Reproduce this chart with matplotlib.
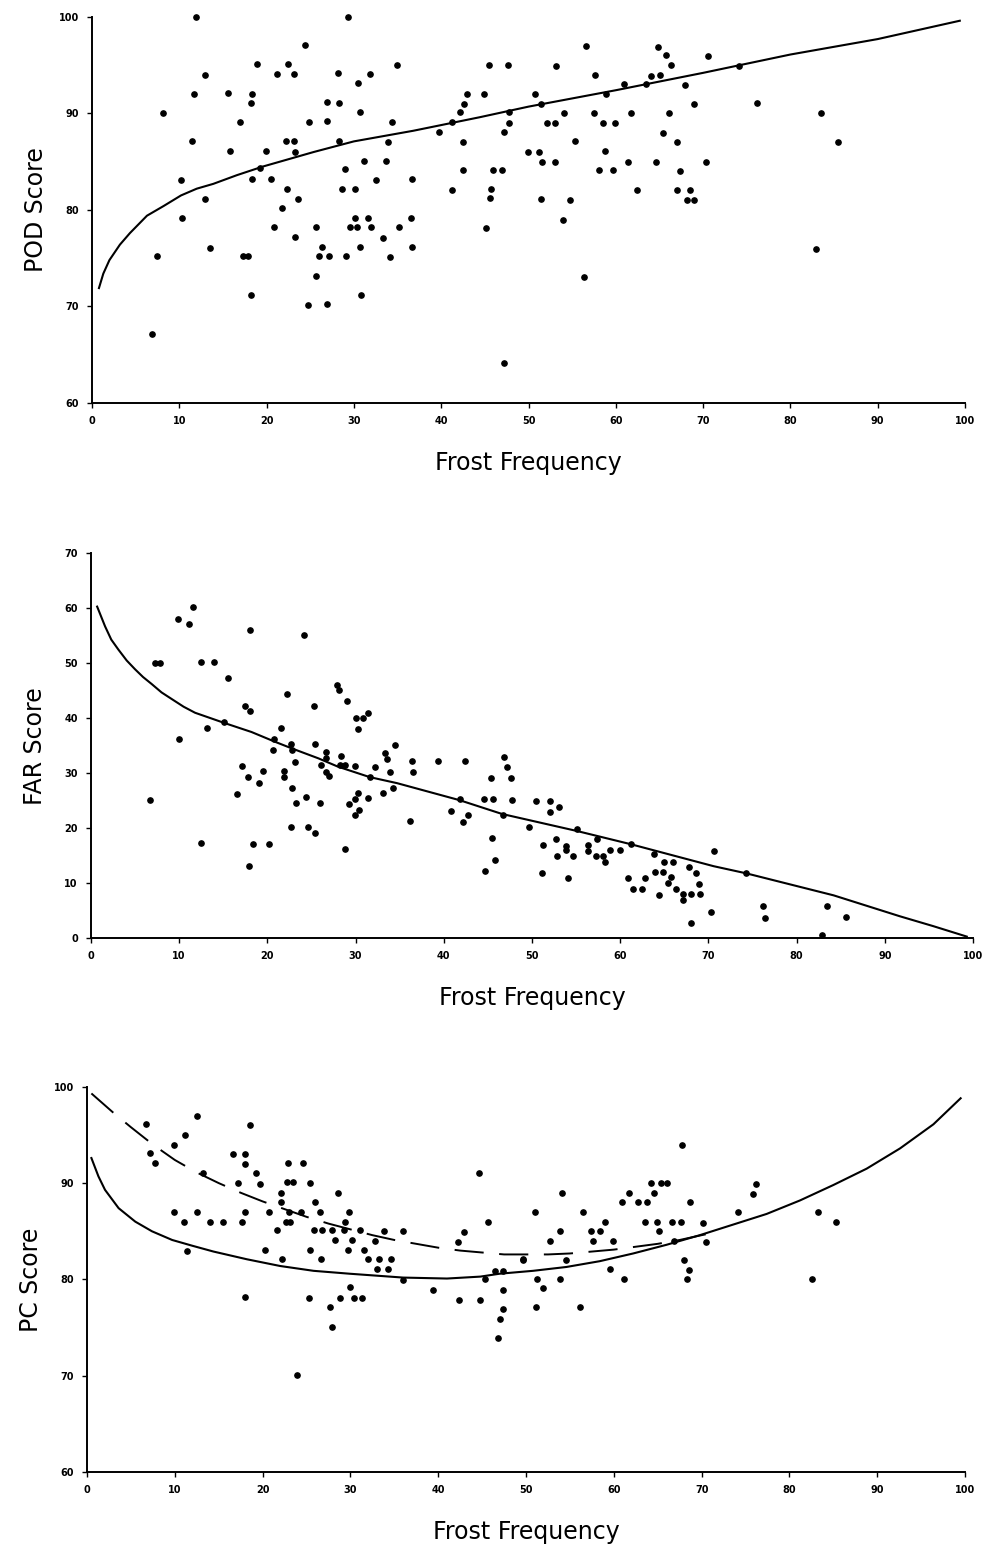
import numpy as np
import matplotlib
matplotlib.use("Agg")
import matplotlib.pyplot as plt

freq_ticks = [0, 10, 20, 30, 40, 50, 60, 70, 80, 90, 100]

# POD score per station vs frost frequency
pod_x = [11.9, 29.3, 24.4, 18.9, 22.5, 12.9, 21.2, 23.1, 28.2, 31.8, 34.9, 30.5, 45.5, 47.7,
         11.7, 15.6, 18.3, 18.2, 8.1, 26.9, 28.3, 30.7, 43.0, 44.9, 42.6, 16.9, 24.9, 26.9,
         34.4, 39.7, 47.8, 47.2, 11.5, 22.2, 23.1, 33.9, 42.5, 15.8, 19.9, 49.9, 31.2, 33.7,
         29.0, 42.5, 45.9, 47.0, 10.2, 18.3, 20.5, 32.5, 36.7, 22.3, 28.6, 30.1, 41.2, 45.7,
         45.6, 12.9, 23.6, 21.8, 10.3, 30.1, 31.6, 36.5, 20.9, 25.7, 29.6, 30.3, 32.0, 35.2,
         45.1, 23.3, 33.3, 13.5, 26.3, 30.7, 36.7, 7.5, 17.3, 17.9, 26.0, 27.2, 29.1, 34.1,
         25.7, 18.2, 30.8, 24.7, 26.9, 6.9, 47.2, 23.2, 28.3, 19.3, 41.2, 42.1, 47.8,
         56.6, 64.8, 65.8, 70.6, 53.2, 66.3, 57.6, 64.0, 65.1, 74.1, 50.7, 60.9, 63.5, 67.9,
         58.9, 51.4, 68.9, 76.2, 83.5, 54.1, 57.5, 61.7, 66.1, 52.1, 53.0, 58.5, 59.9, 65.4,
         55.3, 67.0, 85.5, 51.2, 58.8, 51.5, 53.0, 61.4, 64.6, 70.3, 58.1, 59.7, 67.4, 62.4,
         67.0, 68.5, 51.4, 54.8, 68.1, 69.0, 54.0, 82.9, 56.4]
pod_y = [100.0, 100.0, 97.1, 95.1, 95.1, 94.0, 94.1, 94.1, 94.2, 94.1, 95.0, 93.1, 95.0, 95.0,
         92.0, 92.1, 92.0, 91.1, 90.0, 91.2, 91.1, 90.1, 92.0, 92.0, 91.0, 89.1, 89.1, 89.2,
         89.1, 88.1, 89.0, 88.1, 87.1, 87.1, 87.1, 87.0, 87.0, 86.1, 86.1, 86.0, 85.1, 85.1,
         84.2, 84.1, 84.1, 84.1, 83.1, 83.2, 83.2, 83.1, 83.2, 82.2, 82.2, 82.2, 82.1, 82.2,
         81.2, 81.1, 81.1, 80.2, 79.2, 79.2, 79.2, 79.2, 78.2, 78.2, 78.2, 78.2, 78.2, 78.2,
         78.1, 77.2, 77.1, 76.1, 76.2, 76.2, 76.2, 75.2, 75.2, 75.2, 75.2, 75.2, 75.2, 75.1,
         73.2, 71.2, 71.2, 70.1, 70.2, 67.1, 64.1, 86.0, 87.1, 84.3, 89.1, 90.1, 90.1,
         97.0, 96.9, 96.0, 95.9, 94.9, 95.0, 94.0, 93.9, 94.0, 94.9, 92.0, 93.0, 93.0, 92.9,
         92.0, 91.0, 91.0, 91.1, 90.0, 90.0, 90.0, 90.0, 90.0, 89.0, 89.0, 89.0, 89.0, 88.0,
         87.1, 87.0, 87.0, 86.0, 86.1, 85.0, 85.0, 85.0, 85.0, 85.0, 84.1, 84.1, 84.0, 82.1,
         82.1, 82.1, 81.1, 81.0, 81.0, 81.0, 79.0, 76.0, 73.1]
pod_fit_x = [0.8, 1.3, 2.0, 3.2, 4.35, 6.3, 8.2, 10.2, 12.0, 13.9, 16.6, 19.6, 25.4, 30.0, 36.8,
             44.4, 50.0, 60.0, 70.0, 80.0, 90.0, 99.4]
pod_fit_y = [71.9, 73.4, 74.8, 76.4, 77.6, 79.4, 80.4, 81.5, 82.2, 82.7, 83.6, 84.5, 86.0, 87.1, 88.2,
             89.6, 90.7, 92.4, 94.2, 96.1, 97.7, 99.6]

# FAR score
far_x = [11.6, 9.9, 11.1, 18.0, 24.1, 7.3, 7.8, 12.5, 14.0, 15.5, 27.9, 28.1, 29.0, 22.2, 25.3,
         17.5, 18.0, 31.4, 30.8, 30.1, 30.3, 21.6, 13.2, 15.1, 10.0, 20.7, 20.6, 22.7, 22.8,
         25.4, 26.7, 26.6, 34.5, 33.3, 33.6, 28.3, 23.1, 17.1, 36.4, 36.5, 39.3, 42.4, 26.1,
         26.7, 27.0, 28.2, 28.8, 29.9, 32.2, 33.9, 19.5, 17.8, 19.1, 21.9, 21.9, 31.6, 34.2,
         46.8, 47.2, 47.6, 47.7, 45.3, 6.7, 16.5, 22.8, 23.3, 24.4, 26.0, 29.3, 29.9, 30.3,
         30.4, 29.9, 31.4, 33.1, 40.8, 41.8, 42.7, 42.2, 44.6, 45.6, 46.7, 49.7, 36.2, 22.7,
         24.6, 25.4, 12.5, 18.4, 20.2, 28.8, 17.9, 45.5, 45.8, 44.7,
         50.5, 52.0, 52.0, 53.1, 55.1, 51.3, 52.7, 53.9, 53.9, 52.8, 54.6, 56.4, 56.3, 57.4,
         57.3, 58.1, 58.3, 58.9, 60.0, 51.1, 54.1, 61.2, 63.8, 65.0, 66.0, 67.8, 68.6, 68.9,
         70.6, 60.9, 62.8, 61.5, 62.5, 64.0, 64.9, 65.8, 65.4, 66.3, 64.4, 67.1, 67.1, 68.0,
         69.0, 70.3, 68.0, 74.3, 76.2, 76.4, 83.5, 85.6, 82.9]
far_y = [60.2, 58.1, 57.2, 56.1, 55.1, 50.1, 50.1, 50.2, 50.2, 47.3, 46.1, 45.2, 43.2, 44.4, 42.3,
         42.3, 41.3, 41.0, 40.0, 40.0, 38.1, 38.3, 38.2, 39.3, 36.2, 36.3, 34.3, 35.4, 34.2,
         35.3, 33.9, 32.8, 35.2, 33.7, 32.5, 33.2, 32.0, 31.3, 32.3, 30.3, 32.2, 32.2, 31.5,
         30.3, 29.5, 31.5, 31.5, 31.4, 31.2, 30.3, 30.4, 29.3, 28.2, 30.4, 29.3, 29.4, 27.3,
         32.9, 31.1, 29.2, 25.2, 29.2, 25.1, 26.3, 27.3, 24.5, 25.7, 24.6, 24.4, 25.4, 26.4,
         23.4, 22.4, 25.5, 26.4, 23.2, 25.3, 22.4, 21.2, 25.3, 25.3, 22.4, 20.2, 21.3, 20.3,
         20.3, 19.2, 17.3, 17.2, 17.2, 16.3, 13.2, 18.2, 14.2, 12.2,
         25.0, 25.0, 23.0, 23.9, 19.9, 17.0, 18.1, 16.8, 16.0, 15.0, 15.0, 16.9, 15.9, 18.1,
         14.9, 14.9, 13.8, 16.0, 16.0, 11.9, 11.0, 17.1, 15.3, 13.9, 13.9, 12.9, 11.8, 9.8,
         15.9, 10.9, 10.9, 8.9, 8.9, 12.0, 12.0, 11.1, 10.0, 9.0, 7.9, 8.0, 6.9, 8.0,
         8.0, 4.8, 2.8, 11.9, 5.8, 3.7, 5.9, 3.8, 0.6]
far_fit_x = [0.7, 1.0, 1.6, 2.3, 3.1, 4.05, 5.0, 5.9, 6.9, 8.0, 9.15, 10.5, 11.8, 15.2, 18.2, 20.9,
             22.8, 25.8, 28.0, 31.6, 34.7, 41.8, 46.6, 55.1, 61.2, 70.6, 74.3, 84.2, 91.7, 95.5, 99.3]
far_fit_y = [60.3, 59.1, 56.7, 54.3, 52.5, 50.5, 48.9, 47.5, 46.2, 44.7, 43.5, 42.1, 41.0, 39.1, 37.5,
             35.7, 34.5, 32.7, 31.2, 29.3, 28.2, 25.1, 22.6, 19.5, 17.1, 13.1, 11.8, 7.8, 4.0, 2.2, 0.3]

# PC score
pc_x = [12.5, 6.7, 18.6, 11.2, 9.9, 7.2, 7.7, 16.6, 18.0, 18.0, 13.2, 19.2, 19.7, 17.2, 22.9,
        24.6, 22.8, 23.5, 25.4, 22.1, 22.1, 26.0, 28.6, 20.7, 23.0, 24.4, 26.5, 29.8, 22.7,
        23.1, 29.4, 21.6, 25.8, 26.8, 27.9, 29.3, 31.1, 28.2, 30.2, 33.8, 36.0, 32.8, 29.7,
        31.5, 25.4, 20.3, 22.2, 26.6, 32.0, 33.3, 34.6, 33.0, 34.3, 42.3, 42.9, 44.7, 45.7,
        49.7, 45.3, 46.5, 47.4, 47.4, 47.4, 47.0, 46.8, 39.4, 42.4, 44.8, 29.9, 30.4, 31.3,
        28.8, 27.7, 27.9, 25.3, 18.0, 23.9, 9.9, 11.0, 11.4, 12.5, 14.0, 15.5, 17.7, 18.0,
        36.0,
        67.8, 76.2, 75.9, 64.2, 65.4, 66.1, 54.1, 61.7, 64.6, 60.9, 62.7, 63.8, 68.7, 51.0,
        56.5, 74.1, 83.3, 85.3, 53.9, 57.4, 58.4, 59.0, 63.6, 64.9, 66.6, 67.7, 65.2, 70.1,
        52.7, 57.6, 59.9, 70.5, 66.9, 49.6, 54.6, 51.2, 51.9, 53.9, 59.6, 61.2, 68.0, 68.6,
        68.3, 51.1, 56.2, 82.6]
pc_y = [97.0, 96.1, 96.0, 95.0, 94.0, 93.1, 92.1, 93.0, 93.0, 92.0, 91.0, 91.0, 89.9, 90.0, 92.1,
        92.1, 90.1, 90.1, 90.0, 89.0, 88.0, 88.0, 89.0, 87.0, 87.0, 87.0, 87.0, 87.0, 86.0,
        86.0, 86.0, 85.1, 85.1, 85.1, 85.1, 85.1, 85.1, 84.1, 84.1, 85.0, 85.0, 84.0, 83.1,
        83.1, 83.1, 83.1, 82.1, 82.1, 82.1, 82.1, 82.1, 81.1, 81.1, 83.9, 84.9, 91.0, 86.0,
        82.0, 80.1, 80.9, 80.9, 78.9, 76.9, 75.9, 73.9, 78.9, 77.9, 77.9, 79.2, 78.1, 78.1,
        78.1, 77.1, 75.1, 78.1, 78.2, 70.1, 87.0, 86.0, 83.0, 87.0, 86.0, 86.0, 86.0, 87.0,
        79.9,
        94.0, 89.9, 88.9, 90.0, 90.0, 90.0, 89.0, 89.0, 89.0, 88.0, 88.0, 88.0, 88.0, 87.0,
        87.0, 87.0, 87.0, 86.0, 85.0, 85.0, 85.0, 86.0, 86.0, 86.0, 86.0, 86.0, 85.0, 85.9,
        84.0, 84.0, 84.0, 83.9, 84.0, 82.1, 82.0, 80.1, 79.1, 80.1, 81.1, 80.1, 82.0, 81.0,
        80.0, 77.1, 77.1, 80.1]
pc_fit_x = [0.5, 1.3, 2.05, 3.6, 5.5, 7.4, 9.7, 12.0, 14.4, 18.2, 22.0, 25.8, 29.9, 36.0, 41.0,
            44.8, 47.0, 50.8, 54.6, 58.4, 62.2, 66.0, 69.8, 73.6, 77.4, 81.2, 85.0, 88.8, 92.6,
            96.4, 99.5]
pc_fit_y = [92.6, 90.7, 89.3, 87.4, 86.0, 85.0, 84.1, 83.5, 82.9, 82.1, 81.4, 80.9, 80.6, 80.2, 80.1,
            80.3, 80.6, 80.9, 81.3, 81.9, 82.7, 83.6, 84.6, 85.7, 86.8, 88.2, 89.8, 91.5, 93.6,
            96.1, 98.8]
pc_fit2_x = [0.5, 3.0, 5.0, 7.5, 10.0, 12.5, 15.0, 17.5, 20.0, 22.5, 25.0, 27.5, 30.0, 32.5, 35.0,
             37.5, 40.0, 42.5, 45.0, 47.5, 50.0, 52.5, 55.0, 57.5, 60.0, 62.5, 65.0, 67.5, 70.0, 71.1]
pc_fit2_y = [99.3, 97.3, 95.8, 94.0, 92.4, 91.1, 90.0, 89.0, 88.1, 87.3, 86.5, 85.8, 85.2, 84.6, 84.1,
             83.7, 83.3, 83.0, 82.8, 82.6, 82.6, 82.6, 82.7, 82.9, 83.1, 83.4, 83.7, 84.1, 84.6, 84.8]

fig = plt.figure(figsize=(9.91, 15.48), dpi=100)

panels = [
    ([0.0928, 0.7397, 0.881, 0.2494], pod_x, pod_y, (60, 100), "POD Score"),
    ([0.0918, 0.3939, 0.890, 0.2487], far_x, far_y, (0, 70), "FAR Score"),
    ([0.0878, 0.0489, 0.886, 0.2491], pc_x, pc_y, (60, 100), "PC Score"),
]

axes = []
for rect, xs, ys, ylim, ylabel in panels:
    ax = fig.add_axes(rect)
    ax.plot(xs, ys, 'o', color='k', markersize=3.8, clip_on=False)
    ax.set_xlim(0, 100)
    ax.set_ylim(*ylim)
    ax.set_xticks(freq_ticks)
    ax.set_yticks(np.arange(ylim[0], ylim[1] + 1, 10))
    ax.tick_params(direction='out', length=3.5, width=1.0, labelsize=7, pad=6)
    for lab in ax.get_xticklabels() + ax.get_yticklabels():
        lab.set_fontweight('bold')
    for side in ['top', 'right']:
        ax.spines[side].set_visible(False)
    for side in ['left', 'bottom']:
        ax.spines[side].set_linewidth(1.4)
    ax.set_xlabel("Frost Frequency", fontsize=17, labelpad=18)
    ax.set_ylabel(ylabel, fontsize=17)
    ax.yaxis.set_label_coords(-0.05, 0.5)
    axes.append(ax)

axes[0].plot(pod_fit_x, pod_fit_y, color='k', lw=1.5)
axes[1].plot(far_fit_x, far_fit_y, color='k', lw=1.5)
axes[2].plot(pc_fit_x, pc_fit_y, color='k', lw=1.5)
axes[2].plot(pc_fit2_x, pc_fit2_y, color='k', lw=1.4, dashes=[15, 8])

fig.savefig("out.png", dpi=100)
